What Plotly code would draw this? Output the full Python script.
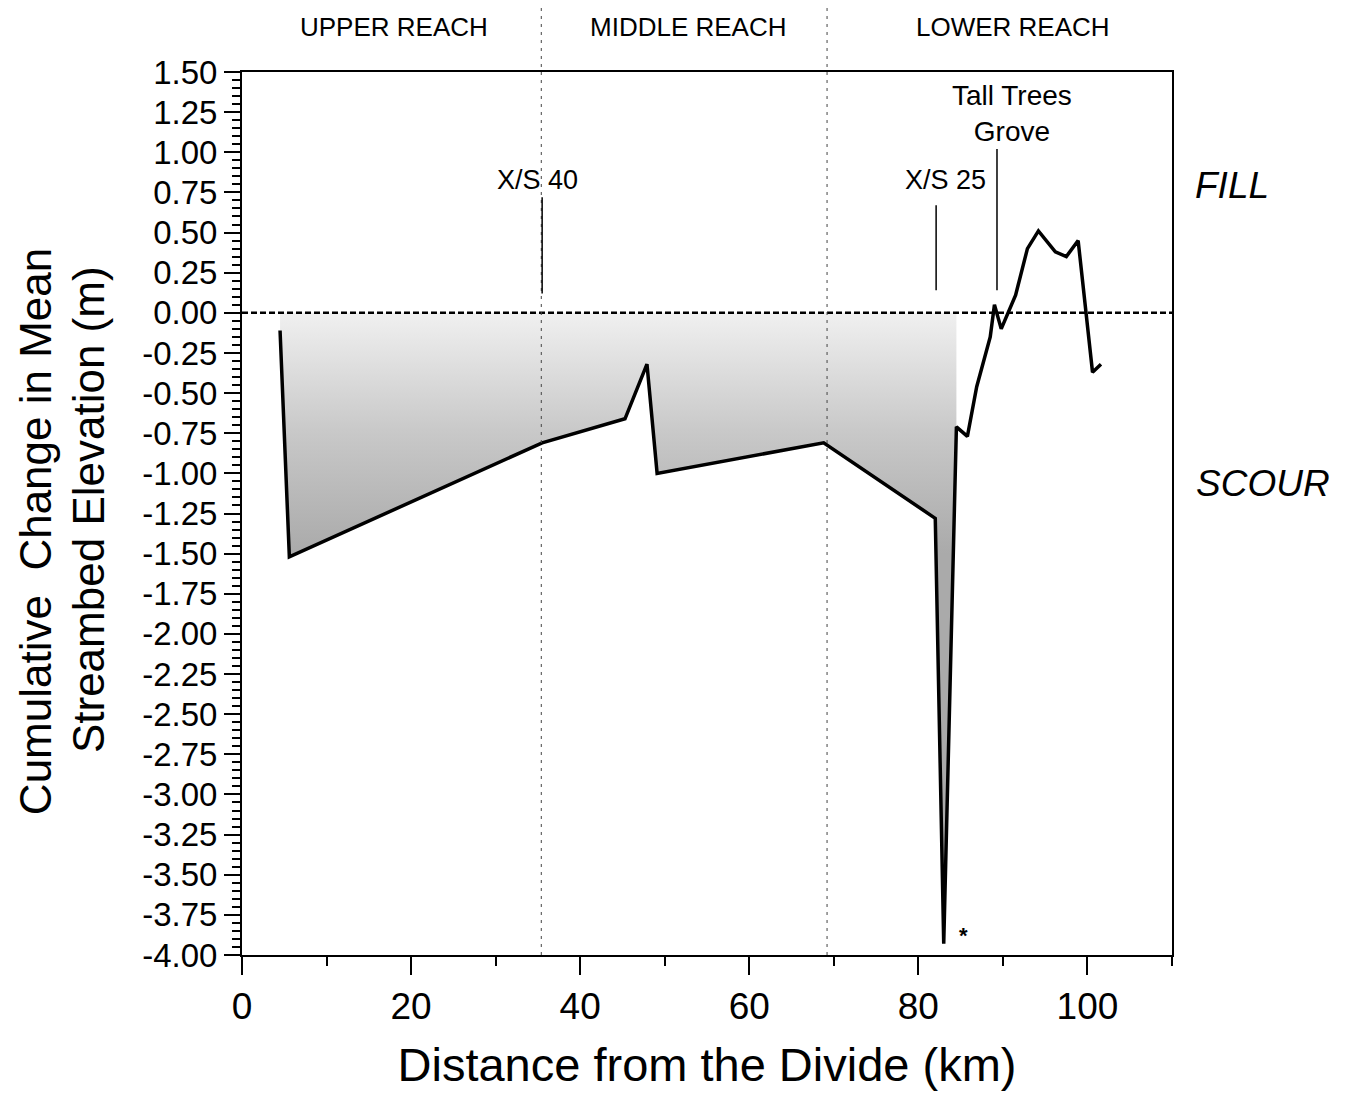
import plotly.graph_objects as go

# ---- data ----
distance_km = [4.5, 5.6, 35.5, 45.3, 47.9, 49.1, 68.8, 82.0, 83.0, 84.5, 85.8, 86.9,
               88.5, 89.0, 89.8, 91.5, 92.9, 94.2, 96.2, 97.5, 98.9, 100.6, 101.6]
elev_change_m = [-0.11, -1.52, -0.81, -0.66, -0.32, -1.00, -0.81, -1.28, -3.93, -0.71, -0.77, -0.46,
                 -0.15, 0.05, -0.10, 0.11, 0.40, 0.51, 0.38, 0.35, 0.45, -0.37, -0.32]
scour_fill_end_index = 9  # shaded scour region runs from first point to the spike's right side

reach_names = ["UPPER REACH", "MIDDLE REACH", "LOWER REACH"]
reach_label_x = [18.0, 52.8, 91.2]
reach_boundaries_km = [35.4, 69.2]

marker_labels = ["X/S 40", "X/S 25", "Tall Trees<br>Grove"]
marker_label_x = [34.9, 83.2, 91.1]
marker_label_y = [0.83, 0.83, 1.24]
marker_line_x = [35.5, 82.1, 89.3]
marker_line_y0 = [0.12, 0.14, 0.14]
marker_line_y1 = [0.72, 0.67, 1.02]

side_labels = ["<i>FILL</i>", "<i>SCOUR</i>"]
side_label_y = [0.79, -1.06]

y_title_lines = ["Cumulative  Change in Mean", "Streambed Elevation (m)"]

y_tick_vals = [1.5 - 0.25 * i for i in range(23)]
y_tick_text = ["%.2f" % v if v >= 0 else "-%.2f" % abs(v) for v in y_tick_vals]
x_tick_vals = [0, 20, 40, 60, 80, 100]
x_tick_text = ["0", "20", "40", "60", "80", "100"]

FONT = "Arial, Liberation Sans, sans-serif"

fig = go.Figure()

# shaded scour area
fx = distance_km[:scour_fill_end_index + 1] + [distance_km[scour_fill_end_index], distance_km[0]]
fy = elev_change_m[:scour_fill_end_index + 1] + [0, 0]
fig.add_trace(go.Scatter(
    x=fx, y=fy, mode="none", fill="toself",
    fillgradient=dict(type="vertical", start=-1.5, stop=0.0,
                      colorscale=[[0, "rgb(170,170,170)"], [0.5, "rgb(200,200,200)"], [1, "rgb(240,240,240)"]]),
    hoverinfo="skip", showlegend=False))

# main profile line
fig.add_trace(go.Scatter(x=distance_km, y=elev_change_m, mode="lines",
                         line=dict(color="black", width=3.5), showlegend=False))

shapes = []
# zero line
shapes.append(dict(type="line", xref="paper", yref="y", x0=0, x1=1, y0=0, y1=0,
                   line=dict(color="black", width=2.5, dash="6px,3px")))
# reach boundaries
for xb in reach_boundaries_km:
    shapes.append(dict(type="line", xref="x", yref="paper", x0=xb, x1=xb, y0=0, y1=1.085,
                       line=dict(color="#444", width=1, dash="3px,5px")))
# marker lines
for xm, a, b in zip(marker_line_x, marker_line_y0, marker_line_y1):
    shapes.append(dict(type="line", xref="x", yref="y", x0=xm, x1=xm, y0=a, y1=b,
                       line=dict(color="black", width=1.5)))

annotations = []
for name, xr in zip(reach_names, reach_label_x):
    annotations.append(dict(x=xr, y=1.051, xref="x", yref="paper", text=name, showarrow=False,
                            xanchor="center", yanchor="middle",
                            font=dict(family=FONT, size=26, color="black")))
for t, xl, yl in zip(marker_labels, marker_label_x, marker_label_y):
    annotations.append(dict(x=xl, y=yl, xref="x", yref="y", text=t, showarrow=False,
                            xanchor="center", yanchor="middle",
                            font=dict(family=FONT, size=28 if "Tall" in t else 27, color="black")))
for t, py, px in zip(side_labels, side_label_y, [1.0645, 1.098]):
    annotations.append(dict(x=px, y=py, xref="paper", yref="y", text=t, showarrow=False,
                            xanchor="center", yanchor="middle",
                            font=dict(family=FONT, size=37, color="black")))
annotations.append(dict(x=85.3, y=-3.88, xref="x", yref="y", text="<b>*</b>", showarrow=False,
                        xanchor="center", yanchor="middle",
                        font=dict(family=FONT, size=22, color="black")))
# y-axis title, two rotated lines
for t, px, py in zip(y_title_lines, [-0.2226, -0.1656], [0.48, 0.505]):
    annotations.append(dict(x=px, y=py, xref="paper", yref="paper", text=t, showarrow=False,
                            textangle=-90, xanchor="center", yanchor="middle",
                            font=dict(family=FONT, size=44, color="black")))

fig.update_layout(
    width=1351, height=1094,
    margin=dict(l=234, r=187, t=64, b=147),
    paper_bgcolor="white", plot_bgcolor="white",
    shapes=shapes, annotations=annotations,
    showlegend=False,
    font=dict(family=FONT, color="black"),
)

fig.update_xaxes(
    range=[0, 110], showgrid=False, zeroline=False,
    showline=True, linecolor="black", linewidth=2, mirror=True,
    tickmode="array", tickvals=x_tick_vals, ticktext=x_tick_text,
    ticks="outside", ticklen=18, tickwidth=2, tickcolor="black",
    tickfont=dict(family=FONT, size=37),
    minor=dict(dtick=10, ticks="outside", ticklen=9, tickwidth=2, tickcolor="black", showgrid=False),
    title=dict(text="Distance from the Divide (km)", font=dict(family=FONT, size=47), standoff=22),
)
fig.update_yaxes(
    range=[-4, 1.5], showgrid=False, zeroline=False,
    showline=True, linecolor="black", linewidth=2, mirror=True,
    tickmode="array", tickvals=y_tick_vals, ticktext=y_tick_text,
    ticks="outside", ticklen=16, tickwidth=2, tickcolor="black",
    tickfont=dict(family=FONT, size=33),
    minor=dict(dtick=0.05, tick0=0, ticks="outside", ticklen=8, tickwidth=1.5, tickcolor="black", showgrid=False),
)

fig.write_html("out.html")
